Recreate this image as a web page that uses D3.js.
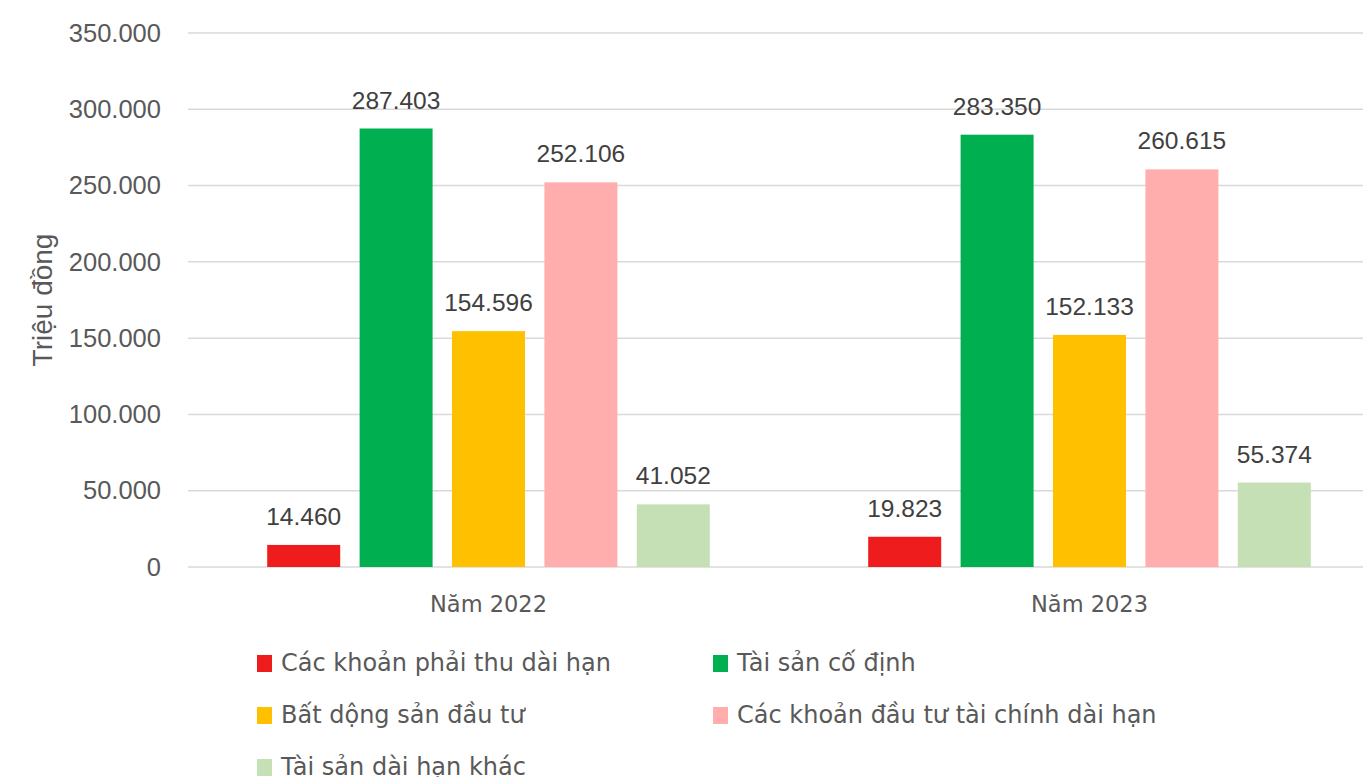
<!DOCTYPE html>
<html>
<head>
<meta charset="utf-8">
<script src="https://cdn.jsdelivr.net/npm/d3@7"></script>
<style>
  body { margin: 0; background: #fff; }
  svg { display: block; }
</style>
</head>
<body>
<div id="chart"></div>
<script>
const years = ["Năm 2022", "Năm 2023"];
const seriesNames = ["Các khoản phải thu dài hạn", "Tài sản cố định", "Bất dộng sản đầu tư", "Các khoản đầu tư tài chính dài hạn", "Tài sản dài hạn khác"];
const seriesColors = ["#EE1C1C", "#00AF50", "#FFC000", "#FFADAD", "#C5E0B4"];
const values2022 = [14460, 287403, 154596, 252106, 41052];
const values2023 = [19823, 283350, 152133, 260615, 55374];
const yTicks = [0, 50000, 100000, 150000, 200000, 250000, 300000, 350000];

const width = 1363;
const height = 777;

const fmt = v => d3.format(",")(v).replace(/,/g, ".");

const svg = d3.select("#chart")
    .append("svg")
    .attr("width", width)
    .attr("height", height);

const x0 = d3.scaleBand()
    .domain(years)
    .range([188, 1390]);

const x1 = d3.scaleBand()
    .domain(seriesNames)
    .range([x0.bandwidth() / 2 - 231, x0.bandwidth() / 2 + 231])
    .paddingInner(0.21)
    .paddingOuter(0.105);

const y = d3.scaleLinear()
    .domain([0, 350000])
    .range([567, 33]);

// gridlines
svg.append("g")
    .selectAll("line")
    .data(yTicks)
    .enter()
    .append("line")
    .attr("x1", 188)
    .attr("x2", width)
    .attr("y1", d => y(d))
    .attr("y2", d => y(d))
    .attr("stroke", "#d9d9d9")
    .attr("stroke-width", 1.5);

// y axis labels
const yaxis = d3.axisLeft(y)
    .tickValues(yTicks)
    .tickFormat(fmt)
    .tickSize(0)
    .tickPadding(0);

svg.append("g")
    .attr("transform", "translate(161,0)")
    .call(yaxis)
    .call(g => g.select(".domain").remove())
    .selectAll("text")
    .attr("fill", "#595959")
    .style("font-family", "'Liberation Sans', Arial, sans-serif")
    .style("font-size", "25.5px");

svg.append("text")
    .attr("transform", "translate(52,300) rotate(-90)")
    .attr("text-anchor", "middle")
    .attr("fill", "#595959")
    .style("font-family", "'Liberation Sans', Arial, sans-serif")
    .style("font-size", "28px")
    .text("Triệu đồng");

// bars
const data = years.map((yr, i) => ({
    year: yr,
    values: seriesNames.map((s, j) => ({ name: s, color: seriesColors[j], value: [values2022, values2023][i][j] }))
}));

const groups = svg.append("g")
    .selectAll("g")
    .data(data)
    .enter()
    .append("g")
    .attr("transform", d => "translate(" + x0(d.year) + ",0)");

groups.selectAll("rect")
    .data(d => d.values)
    .enter()
    .append("rect")
    .attr("x", d => x1(d.name))
    .attr("width", x1.bandwidth())
    .attr("y", d => y(d.value))
    .attr("height", d => y(0) - y(d.value))
    .attr("fill", d => d.color);

groups.selectAll("text.value")
    .data(d => d.values)
    .enter()
    .append("text")
    .attr("class", "value")
    .attr("x", d => x1(d.name) + x1.bandwidth() / 2)
    .attr("y", d => y(d.value) - 20)
    .attr("text-anchor", "middle")
    .attr("fill", "#404040")
    .style("font-family", "'Liberation Sans', Arial, sans-serif")
    .style("font-size", "24.5px")
    .text(d => fmt(d.value));

// category labels
svg.append("g")
    .selectAll("text")
    .data(years)
    .enter()
    .append("text")
    .attr("x", d => x0(d) + x0.bandwidth() / 2)
    .attr("y", 612)
    .attr("text-anchor", "middle")
    .attr("fill", "#595959")
    .style("font-family", "'DejaVu Sans', sans-serif")
    .style("font-size", "22.5px")
    .text(d => d);

// legend
const legend = svg.append("g")
    .selectAll("g")
    .data(seriesNames)
    .enter()
    .append("g")
    .attr("transform", (d, i) => "translate(" + (i % 2 === 0 ? 257 : 713) + "," + (663 + Math.floor(i / 2) * 52) + ")");

legend.append("rect")
    .attr("x", 0)
    .attr("y", -8)
    .attr("width", 15)
    .attr("height", 17)
    .attr("fill", (d, i) => seriesColors[i]);

legend.append("text")
    .attr("x", 24)
    .attr("y", 8)
    .attr("fill", "#595959")
    .style("font-family", "'DejaVu Sans', sans-serif")
    .style("font-size", "24px")
    .text(d => d);
</script>
</body>
</html>
